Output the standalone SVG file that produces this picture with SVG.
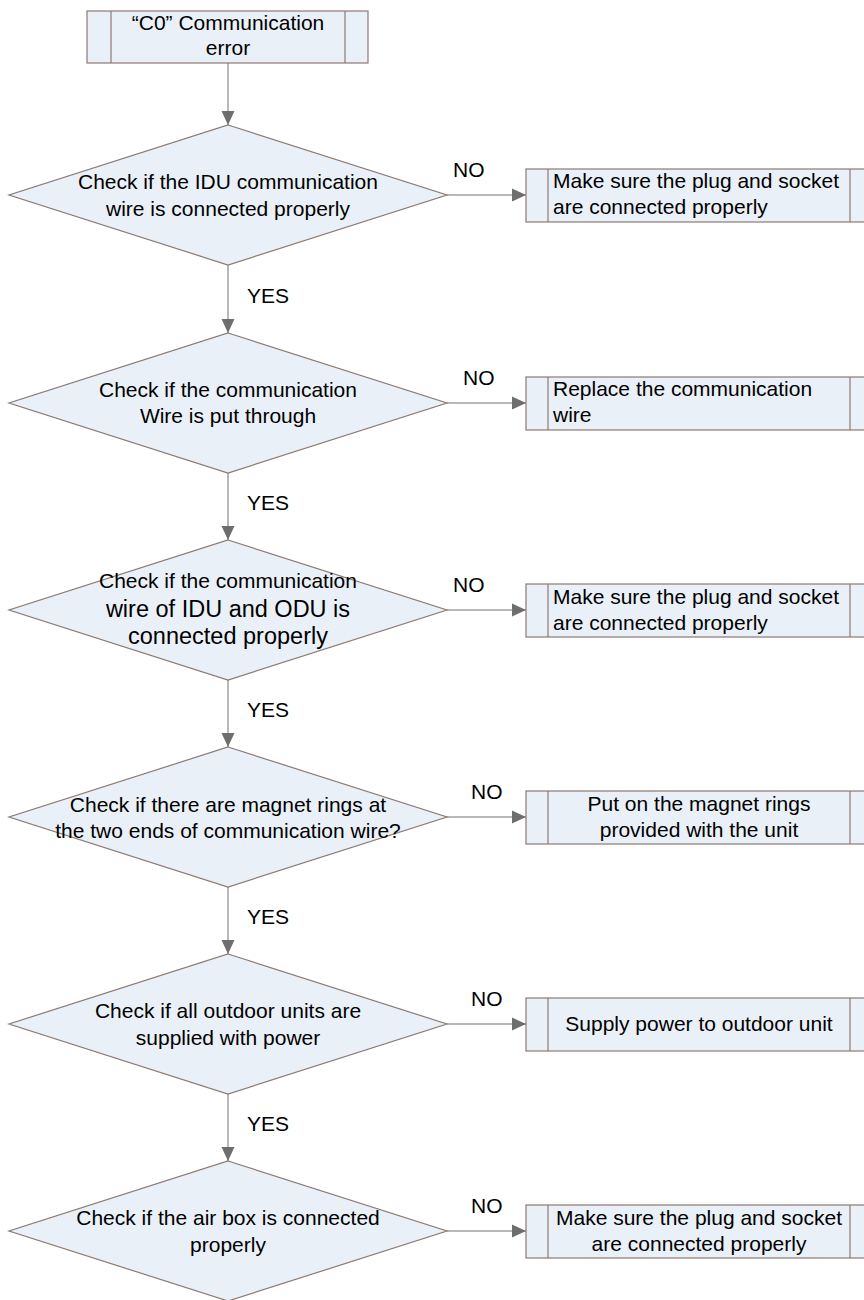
<svg xmlns="http://www.w3.org/2000/svg" width="864" height="1300" viewBox="0 0 864 1300">
<style>
.shape{fill:#EAF0F8;stroke:#8C7A72;stroke-width:1.2}
.inner{stroke:#8C7A72;stroke-width:1.2;fill:none}
.conn{stroke:#A0A0A0;stroke-width:1.5;fill:none}
text{font-family:"Liberation Sans",Arial,sans-serif;font-size:21px;fill:#000}
.c{text-anchor:middle}
.big{font-size:23.5px}
</style>
<defs>
<marker id="arr" markerUnits="userSpaceOnUse" markerWidth="14" markerHeight="14" refX="14" refY="7" orient="auto">
<path d="M0,0.5 L14,7 L0,13.5 Z" fill="#6E6E6E"/>
</marker>
</defs>
<rect width="864" height="1300" fill="#fff"/>
<g id="connectors">
<line class="conn" x1="228" y1="63" x2="228" y2="125" marker-end="url(#arr)"/>
<line class="conn" x1="228" y1="265" x2="228" y2="333" marker-end="url(#arr)"/>
<line class="conn" x1="228" y1="473" x2="228" y2="540" marker-end="url(#arr)"/>
<line class="conn" x1="228" y1="680" x2="228" y2="747" marker-end="url(#arr)"/>
<line class="conn" x1="228" y1="887" x2="228" y2="954" marker-end="url(#arr)"/>
<line class="conn" x1="228" y1="1094" x2="228" y2="1161" marker-end="url(#arr)"/>
<line class="conn" x1="447" y1="195" x2="526" y2="195" marker-end="url(#arr)"/>
<line class="conn" x1="447" y1="403" x2="526" y2="403" marker-end="url(#arr)"/>
<line class="conn" x1="447" y1="610" x2="526" y2="610" marker-end="url(#arr)"/>
<line class="conn" x1="447" y1="817" x2="526" y2="817" marker-end="url(#arr)"/>
<line class="conn" x1="447" y1="1024" x2="526" y2="1024" marker-end="url(#arr)"/>
<line class="conn" x1="447" y1="1231" x2="526" y2="1231" marker-end="url(#arr)"/>
<text x="247" y="303">YES</text>
<text x="247" y="510">YES</text>
<text x="247" y="717">YES</text>
<text x="247" y="924">YES</text>
<text x="247" y="1131">YES</text>
<text x="453" y="177">NO</text>
<text x="463" y="385">NO</text>
<text x="453" y="592">NO</text>
<text x="471" y="799">NO</text>
<text x="471" y="1006">NO</text>
<text x="471" y="1213">NO</text>
</g>
<g id="start">
<rect class="shape" x="87" y="11" width="281" height="52"/>
<line class="inner" x1="111" y1="11" x2="111" y2="63"/>
<line class="inner" x1="345" y1="11" x2="345" y2="63"/>
<text class="c" x="228" y="30">“C0” Communication</text>
<text class="c" x="228" y="55">error</text>
</g>
<g id="d1">
<polygon class="shape" points="228,125 447,195 228,265 9,195"/>
<text class="c" x="228" y="189">Check if the IDU communication</text>
<text class="c" x="228" y="216">wire is connected properly</text>
</g>
<g id="b1">
<rect class="shape" x="526" y="169" width="346" height="53"/>
<line class="inner" x1="548" y1="169" x2="548" y2="222"/>
<line class="inner" x1="850" y1="169" x2="850" y2="222"/>
<text x="553" y="188">Make sure the plug and socket</text>
<text x="553" y="214">are connected properly</text>
</g>
<g id="d2">
<polygon class="shape" points="228,333 447,403 228,473 9,403"/>
<text class="c" x="228" y="397">Check if the communication</text>
<text class="c" x="228" y="423">Wire is put through</text>
</g>
<g id="b2">
<rect class="shape" x="526" y="377" width="346" height="53"/>
<line class="inner" x1="548" y1="377" x2="548" y2="430"/>
<line class="inner" x1="850" y1="377" x2="850" y2="430"/>
<text x="553" y="396">Replace the communication</text>
<text x="553" y="422">wire</text>
</g>
<g id="d3">
<polygon class="shape" points="228,540 447,610 228,680 9,610"/>
<text class="c" x="228" y="588">Check if the communication</text>
<text class="c big" x="228" y="617">wire of IDU and ODU is</text>
<text class="c big" x="228" y="644">connected properly</text>
</g>
<g id="b3">
<rect class="shape" x="526" y="584" width="346" height="53"/>
<line class="inner" x1="548" y1="584" x2="548" y2="637"/>
<line class="inner" x1="850" y1="584" x2="850" y2="637"/>
<text x="553" y="604">Make sure the plug and socket</text>
<text x="553" y="630">are connected properly</text>
</g>
<g id="d4">
<polygon class="shape" points="228,747 447,817 228,887 9,817"/>
<text class="c" x="228" y="812">Check if there are magnet rings at</text>
<text class="c" x="228" y="838">the two ends of communication wire?</text>
</g>
<g id="b4">
<rect class="shape" x="526" y="791" width="346" height="53"/>
<line class="inner" x1="548" y1="791" x2="548" y2="844"/>
<line class="inner" x1="850" y1="791" x2="850" y2="844"/>
<text class="c" x="699" y="811">Put on the magnet rings</text>
<text class="c" x="699" y="837">provided with the unit</text>
</g>
<g id="d5">
<polygon class="shape" points="228,954 447,1024 228,1094 9,1024"/>
<text class="c" x="228" y="1018">Check if all outdoor units are</text>
<text class="c" x="228" y="1045">supplied with power</text>
</g>
<g id="b5">
<rect class="shape" x="526" y="998" width="346" height="53"/>
<line class="inner" x1="548" y1="998" x2="548" y2="1051"/>
<line class="inner" x1="850" y1="998" x2="850" y2="1051"/>
<text class="c" x="699" y="1031">Supply power to outdoor unit</text>
</g>
<g id="d6">
<polygon class="shape" points="228,1161 447,1231 228,1301 9,1231"/>
<text class="c" x="228" y="1225">Check if the air box is connected</text>
<text class="c" x="228" y="1252">properly</text>
</g>
<g id="b6">
<rect class="shape" x="526" y="1205" width="346" height="53"/>
<line class="inner" x1="548" y1="1205" x2="548" y2="1258"/>
<line class="inner" x1="850" y1="1205" x2="850" y2="1258"/>
<text class="c" x="699" y="1225">Make sure the plug and socket</text>
<text class="c" x="699" y="1251">are connected properly</text>
</g>
</svg>
